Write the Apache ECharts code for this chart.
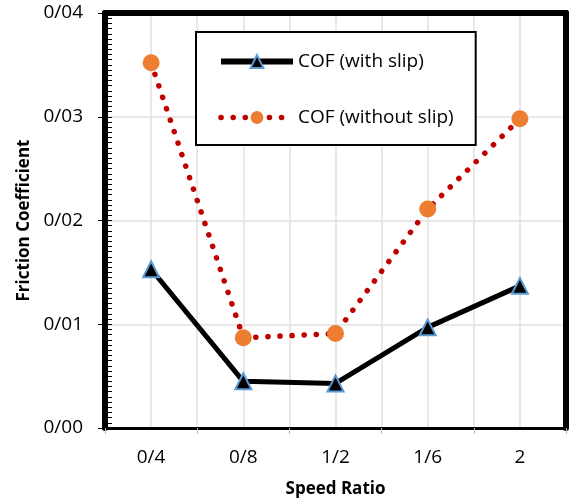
<!DOCTYPE html>
<html>
<head>
<meta charset="utf-8">
<script src="https://cdn.jsdelivr.net/npm/echarts@6/dist/echarts.min.js"></script>
<style>html,body{margin:0;padding:0;background:#fff}#c{width:571px;height:502px}</style>
</head>
<body>
<div id="c"></div>
<script>
var categories = ['0/4', '0/8', '1/2', '1/6', '2'];
var withSlip = [0.0153, 0.0045, 0.0043, 0.0097, 0.0137];
var withoutSlip = [0.0352, 0.0087, 0.0091, 0.0211, 0.0298];
var yTickLabels = ['0/00', '0/01', '0/02', '0/03', '0/04'];

var FONT = 'Open Sans';
var chart = echarts.init(document.getElementById('c'));
chart.setOption({
  animation: false,
  backgroundColor: '#fff',
  grid: {left: 105, right: 5, top: 13, bottom: 74, containLabel: false, outerBoundsMode: 'none'},
  legend: {
    show: true,
    orient: 'vertical',
    left: 196, top: 32,
    width: 276,
    padding: [20, 22, 18, 22],
    backgroundColor: '#fff',
    borderColor: '#000',
    borderWidth: 2,
    itemWidth: 72,
    itemHeight: 16,
    itemGap: 37,
    textStyle: {fontFamily: FONT, fontSize: 19, color: '#000'},
    data: [
      {name: 'COF (with slip)', lineStyle: {width: 6}},
      {name: 'COF (without slip)', lineStyle: {width: 5.5}}
    ]
  },
  xAxis: [{
    type: 'category',
    data: categories,
    boundaryGap: true,
    axisLine: {show: true, lineStyle: {color: '#000', width: 3}},
    axisTick: {show: true, length: 6, lineStyle: {color: '#bbb', width: 1}},
    axisLabel: {fontFamily: FONT, fontSize: 19, color: '#000', margin: 20},
    splitLine: {show: false},
    name: 'Speed Ratio',
    nameLocation: 'middle',
    nameGap: 53,
    nameTextStyle: {fontFamily: FONT, fontSize: 17, fontWeight: 'bold', color: '#000'}
  }, {
    type: 'value',
    min: 0.2, max: 2.2, interval: 0.2,
    position: 'bottom',
    axisLine: {show: false}, axisTick: {show: false}, axisLabel: {show: false},
    splitLine: {show: true, lineStyle: {color: '#e0e0e0', width: 1.5}}
  }, {
    type: 'category',
    data: categories,
    position: 'top',
    axisLine: {show: true, onZero: false, lineStyle: {color: '#000', width: 6}},
    axisTick: {show: false}, axisLabel: {show: false}, splitLine: {show: false}
  }],
  yAxis: [{
    type: 'value',
    min: 0, max: 0.04, interval: 0.01,
    axisLine: {show: true, onZero: false, lineStyle: {color: '#000', width: 6}},
    axisTick: {show: true, length: 7, lineStyle: {color: '#000', width: 1}},
    axisLabel: {
      fontFamily: FONT, fontSize: 19, color: '#000', margin: 22,
      formatter: function (v) { return yTickLabels[Math.round(v / 0.01)]; }
    },
    splitLine: {show: true, lineStyle: {color: '#e0e0e0', width: 1.5}},
    name: 'Friction Coefficient',
    nameLocation: 'middle',
    nameGap: 64,
    nameTextStyle: {fontFamily: FONT, fontSize: 17, fontWeight: 'bold', color: '#000'}
  }, {
    type: 'value',
    min: 0, max: 0.04, interval: 0.01,
    position: 'left',
    axisLine: {show: false, onZero: false},
    axisLabel: {show: false},
    splitLine: {show: false},
    axisTick: {show: true, inside: true, length: 7, lineStyle: {color: '#000', width: 1}},
    minorTick: {show: true, splitNumber: 20, length: 7, lineStyle: {color: '#000', width: 1}}
  }, {
    type: 'value',
    min: 0, max: 0.04, interval: 0.01,
    position: 'right',
    axisLine: {show: true, onZero: false, lineStyle: {color: '#000', width: 6}},
    axisLabel: {show: false}, axisTick: {show: false}, splitLine: {show: false}
  }],
  series: [{
    name: 'COF (with slip)',
    type: 'line',
    xAxisIndex: 0, yAxisIndex: 0,
    data: withSlip,
    symbol: 'triangle',
    symbolSize: 16,
    itemStyle: {color: '#000', borderColor: '#5b9bd5', borderWidth: 2},
    lineStyle: {color: '#000', width: 5},
    z: 3
  }, {
    name: 'COF (without slip)',
    type: 'line',
    xAxisIndex: 0, yAxisIndex: 0,
    data: withoutSlip,
    symbol: 'circle',
    symbolSize: 17,
    itemStyle: {color: '#ed7d31', borderWidth: 0},
    lineStyle: {color: '#c00000', width: 5.5, type: [0.1, 12], cap: 'round'},
    z: 2
  }]
});
</script>
</body>
</html>
